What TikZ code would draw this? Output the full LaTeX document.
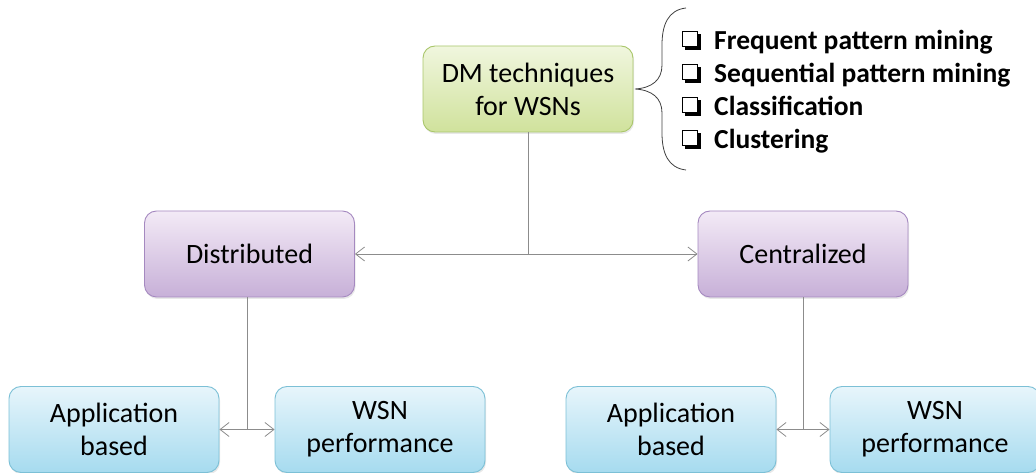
\documentclass[tikz,border=0pt]{standalone}
\usepackage{fontspec}
\setmainfont{Carlito}
\usetikzlibrary{arrows.meta,shadows,calc}

\definecolor{gTop}{HTML}{F0F6DE}
\definecolor{gBot}{HTML}{D0E29C}
\definecolor{gLine}{HTML}{A9C66A}
\definecolor{pTop}{HTML}{F3EAF6}
\definecolor{pBot}{HTML}{C7B0D8}
\definecolor{pLine}{HTML}{A589C0}
\definecolor{bTop}{HTML}{E7F5FB}
\definecolor{bBot}{HTML}{A6DBEF}
\definecolor{bLine}{HTML}{7CC0D6}
\definecolor{link}{HTML}{8C8C8C}

\begin{document}
\begin{tikzpicture}[x=1pt,y=1pt,
  box/.style={rounded corners=12pt, line width=0.9pt, minimum width=210pt,
    minimum height=86pt, align=center, inner sep=2pt,
    font=\fontsize{28}{33}\selectfont,
    drop shadow={opacity=0.18, shadow xshift=1pt, shadow yshift=-2pt}},
  greenbox/.style={box, draw=gLine, top color=gTop, bottom color=gBot},
  purplebox/.style={box, draw=pLine, top color=pTop, bottom color=pBot},
  bluebox/.style={box, draw=bLine, top color=bTop, bottom color=bBot},
  link/.style={draw=link, line width=0.8pt},
  twoway/.style={link, {Straight Barb[length=9pt,width=14pt]}-{Straight Barb[length=9pt,width=14pt]}},
  itemtext/.style={anchor=base west, inner sep=0pt, font=\fontsize{27.5}{31}\selectfont\bfseries},
  brace/.style={draw=black!75, line width=0.8pt}
]
\useasboundingbox (0,0) rectangle (1036,473);

% main nodes
\node[greenbox]  (dm)   at (528,384)  {DM techniques\\for WSNs};
\node[purplebox] (dist) at (249.5,219) {Distributed};
\node[purplebox] (cent) at (803,219)  {Centralized};
\node[bluebox]   (app1) at (114,43.5) {Application\\based};
\node[bluebox]   (wsn1) at (380,43.5) {WSN\\performance};
\node[bluebox]   (app2) at (671,43.5) {Application\\based};
\node[bluebox]   (wsn2) at (935,43.5) {WSN\\performance};

% connectors
\draw[link] (dm.south) -- (dm.south |- dist.east);
\draw[twoway] (dist.east) -- (cent.west);

\coordinate (m1) at ($(app1.east)!0.5!(wsn1.west)$);
\coordinate (m2) at ($(app2.east)!0.5!(wsn2.west)$);
\draw[link] (m1 |- dist.south) -- (m1);
\draw[twoway] (app1.east) -- (wsn1.west);
\draw[link] (m2 |- cent.south) -- (m2);
\draw[twoway] (app2.east) -- (wsn2.west);

% curly brace grouping the technique list
\draw[brace] (686,465) .. controls (668,463) and (662,448) .. (662,428)
  -- (662,408) .. controls (662,393) and (652,385) .. (635,384)
  .. controls (652,383) and (662,375) .. (662,360)
  -- (662,340) .. controls (662,320) and (668,305) .. (686,303);

% list of techniques with shadowed check boxes
\foreach \name/\txt/\b in {it1/Frequent pattern mining/423,
                          it2/Sequential pattern mining/390,
                          it3/Classification/357,
                          it4/Clustering/324} {
  \node[itemtext] (\name) at (714,\b) {\txt};
  \fill[black] (685,\b) rectangle (701,\b+16);
  \filldraw[fill=white, draw=black, line width=0.9pt] (682.5,\b+3.5) rectangle (697.5,\b+18.5);
}
\end{tikzpicture}
\end{document}
